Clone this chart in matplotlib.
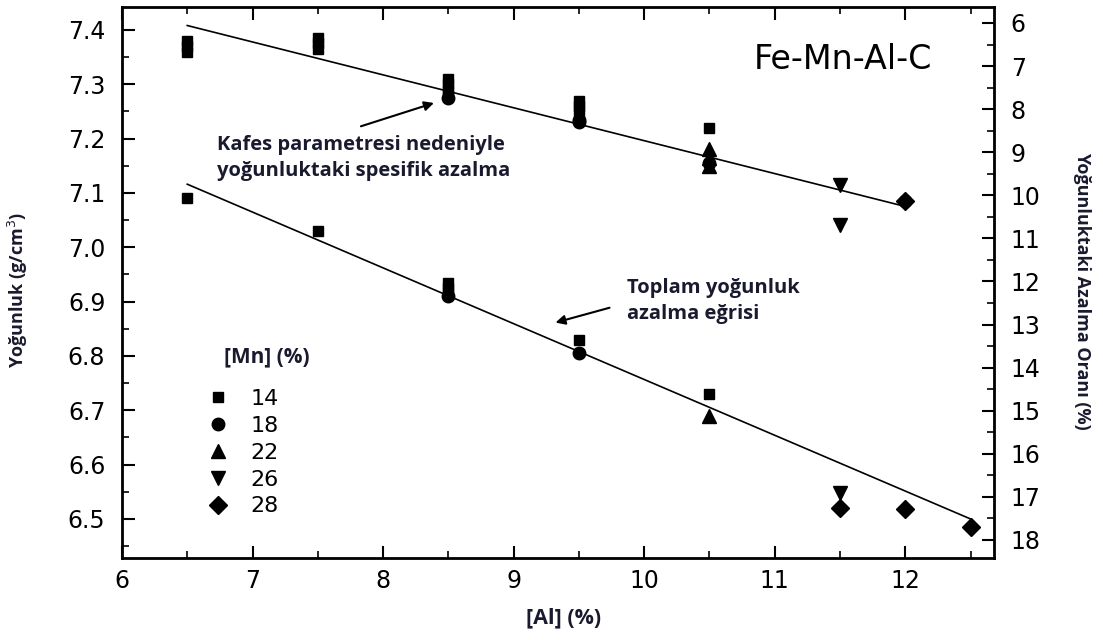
import numpy as np
import matplotlib.pyplot as plt
from matplotlib.ticker import MultipleLocator

# [Mn] groups, Al content (%) and density (g/cm3)
mn14_al = [6.5, 6.5, 6.5, 7.5, 7.5, 7.5, 8.5, 8.5, 8.5, 8.5, 9.5, 9.5, 9.5, 10.5,
           6.5, 7.5, 8.5, 8.5, 8.5, 9.5, 10.5]
mn14_rho = [7.38, 7.37, 7.36, 7.385, 7.375, 7.365, 7.31, 7.30, 7.29, 7.28, 7.27, 7.26, 7.25, 7.22,
            7.09, 7.03, 6.935, 6.925, 6.915, 6.83, 6.73]
mn18_al = [8.5, 9.5, 9.5, 10.5, 12.0, 8.5, 9.5]
mn18_rho = [7.275, 7.235, 7.23, 7.155, 7.085, 6.91, 6.805]
mn22_al = [10.5, 10.5, 10.5, 10.5]
mn22_rho = [7.18, 7.165, 7.15, 6.69]
mn26_al = [11.5, 11.5, 11.5]
mn26_rho = [7.115, 7.04, 6.547]
mn28_al = [12.0, 11.5, 12.0, 12.5]
mn28_rho = [7.085, 6.52, 6.518, 6.485]

# straight lines drawn in the figure (end points)
lattice_line_al = [6.5, 12.0]
lattice_line_rho = [7.408, 7.075]
total_line_al = [6.5, 12.5]
total_line_rho = [7.116, 6.50]

mn_labels = ['14', '18', '22', '26', '28']

fig = plt.figure(figsize=(11.03, 6.4), dpi=100)
ax = fig.add_axes([0.1106, 0.128, 0.7906, 0.861])

ax.plot(lattice_line_al, lattice_line_rho, color='black', lw=1.2)
ax.plot(total_line_al, total_line_rho, color='black', lw=1.2)

ax.plot(mn14_al, mn14_rho, 's', color='black', ms=7, label=mn_labels[0])
ax.plot(mn18_al, mn18_rho, 'o', color='black', ms=9, label=mn_labels[1])
ax.plot(mn22_al, mn22_rho, '^', color='black', ms=10, label=mn_labels[2])
ax.plot(mn26_al, mn26_rho, 'v', color='black', ms=10, label=mn_labels[3])
ax.plot(mn28_al, mn28_rho, 'D', color='black', ms=9, label=mn_labels[4])

ax.set_xlim(6, 12.68)
ax.set_ylim(6.428, 7.442)
ax.xaxis.set_major_locator(MultipleLocator(1))
ax.xaxis.set_minor_locator(MultipleLocator(0.5))
ax.yaxis.set_major_locator(MultipleLocator(0.1))
ax.yaxis.set_minor_locator(MultipleLocator(0.05))
ax.yaxis.set_major_formatter(plt.FormatStrFormatter('%.1f'))
ax.tick_params(which='both', direction='in', top=True, labelsize=17)
ax.tick_params(which='major', length=9, width=1.5)
ax.tick_params(which='minor', length=5, width=1.2)
ax.tick_params(axis='x', pad=8)
ax.tick_params(axis='y', pad=12)
for s in ax.spines.values():
    s.set_linewidth(2)

ax2 = ax.twinx()
ax2.set_ylim(18.42, 5.63)
ax2.yaxis.set_major_locator(MultipleLocator(1))
ax2.yaxis.set_minor_locator(MultipleLocator(0.5))
ax2.tick_params(which='both', direction='in', labelsize=17, pad=12)
ax2.tick_params(which='major', length=9, width=1.5)
ax2.tick_params(which='minor', length=5, width=1.2)
ax.tick_params(axis='y', which='both', right=False)

tfont = dict(family='Open Sans', fontweight='bold', color='#1a1a2e')
ax.set_xlabel('[Al] (%)', fontsize=15.5, va='center', **tfont)
ax.xaxis.set_label_coords(0.506, -0.109)
ax.set_ylabel('Yoğunluk (g/cm$^3$)', fontsize=13, va='center', **tfont)
ax.yaxis.set_label_coords(-0.119, 0.486)
ax2.set_ylabel('Yoğunluktaki Azalma Oranı (%)', rotation=-90, fontsize=13, va='center', **tfont)
ax2.yaxis.set_label_coords(1.101, 0.485)

ax.text(0.827, 0.904, 'Fe-Mn-Al-C', transform=ax.transAxes, ha='center', va='center',
        fontsize=24)

ax.annotate('', xy=(8.41, 7.267), xytext=(7.81, 7.221),
            arrowprops=dict(arrowstyle='-|>', color='black', lw=1.5, mutation_scale=14))
ax.text(6.73, 7.164, 'Kafes parametresi nedeniyle\nyoğunluktaki spesifik azalma',
        ha='left', va='center', fontsize=14.5, linespacing=1.35, **tfont)
ax.annotate('', xy=(9.30, 6.86), xytext=(9.755, 6.89),
            arrowprops=dict(arrowstyle='-|>', color='black', lw=1.5, mutation_scale=14))
ax.text(9.87, 6.901, 'Toplam yoğunluk\nazalma eğrisi',
        ha='left', va='center', fontsize=14.5, linespacing=1.35, **tfont)

ax.text(0.117, 0.365, '[Mn] (%)', transform=ax.transAxes, ha='left', va='center',
        fontsize=15, **tfont)
leg = ax.legend(loc='upper left', bbox_to_anchor=(0.0975, 0.307), frameon=False,
                fontsize=16, handlelength=1.0, handletextpad=0.95, labelspacing=0.31,
                borderpad=0, borderaxespad=0)

plt.savefig('out.png', dpi=100)
